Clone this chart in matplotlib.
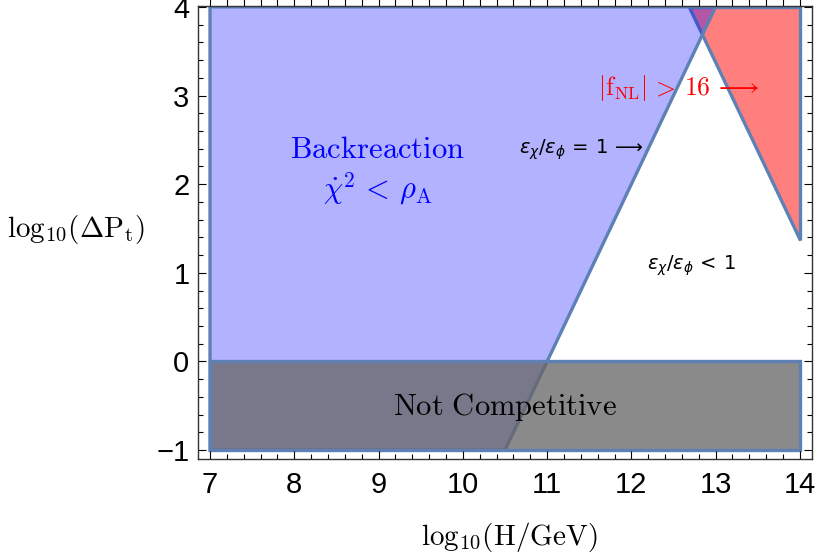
import matplotlib.pyplot as plt
from matplotlib.patches import Polygon
from matplotlib.ticker import MultipleLocator

# region boundaries in (log10 H, log10 dP_t)
backreaction_x = [7, 10.5, 13, 7]
backreaction_y = [-1, -1, 4, 4]
fnl_x = [12.685, 14, 14]
fnl_y = [4, 4, 1.37]
notcomp_x = [7, 14, 14, 7]
notcomp_y = [-1, -1, 0, 0]

edge = '#5e81b5'
plt.rcParams['font.family'] = 'Liberation Sans'

fig = plt.figure(figsize=(8.18, 5.6), dpi=100)
ax = fig.add_axes([0.2417, 0.1804, 0.7506, 0.8089])

ax.add_patch(Polygon(list(zip(fnl_x, fnl_y)), closed=True,
                     facecolor=(1, 0, 0, 0.5), edgecolor=edge, lw=2.4, joinstyle='miter'))
ax.add_patch(Polygon(list(zip(backreaction_x, backreaction_y)), closed=True,
                     facecolor=(0, 0, 1, 0.3), edgecolor=edge, lw=2.4, joinstyle='miter'))
ax.add_patch(Polygon(list(zip(notcomp_x, notcomp_y)), closed=True,
                     facecolor=(0.4, 0.4, 0.4, 0.76), edgecolor=edge, lw=2.4, joinstyle='miter'))

ax.text(8.99, 2.38, r'$\mathrm{Backreaction}$', color='blue', fontsize=22,
        ha='center', va='center', math_fontfamily='cm')
ax.text(8.99, 1.95, r'$\dot{\chi}^2\,<\,\rho_\mathrm{A}$', color='blue', fontsize=22,
        ha='center', va='center', math_fontfamily='cm')
ax.text(10.67, 2.39, r'$\epsilon_\chi/\epsilon_\phi\,=\,1\,\longrightarrow$', fontsize=14,
        ha='left', va='center', math_fontfamily='dejavusans')
ax.text(12.19, 1.08, r'$\epsilon_\chi/\epsilon_\phi\,<\,1$', fontsize=14,
        ha='left', va='center', math_fontfamily='dejavusans')
ax.text(11.61, 3.09, r'$|\mathrm{f}_\mathrm{NL}|\,>\,16\,\longrightarrow$', color='red', fontsize=18.5,
        ha='left', va='center', math_fontfamily='cm')
ax.text(10.5, -0.51, r'$\mathrm{Not\ Competitive}$', fontsize=22,
        ha='center', va='center', math_fontfamily='cm')

ax.set_xlim(6.854, 14.14)
ax.set_ylim(-1.10, 4.01)
ax.xaxis.set_major_locator(MultipleLocator(1))
ax.xaxis.set_minor_locator(MultipleLocator(0.2))
ax.yaxis.set_major_locator(MultipleLocator(1))
ax.yaxis.set_minor_locator(MultipleLocator(0.2))
ax.tick_params(which='both', direction='in', right=True, width=0.8, colors='black', labelsize=21)
ax.tick_params(which='major', length=6)
ax.tick_params(which='minor', length=3.5)
ax.tick_params(axis='x', pad=9)
ax.tick_params(axis='y', pad=6)

top = ax.secondary_xaxis('top')
top.xaxis.set_major_locator(MultipleLocator(1))
top.xaxis.set_minor_locator(MultipleLocator(0.2))
top.tick_params(which='both', direction='out', length=6, width=0.8, labeltop=False)

for s in ax.spines.values():
    s.set_linewidth(1.0)
    s.set_color('#333333')
top.spines['top'].set_visible(False)

ax.set_xlabel(r'$\mathrm{log}_{10}(\mathrm{H/GeV})$', fontsize=21, math_fontfamily='cm',
              va='center')
ax.xaxis.set_label_coords(0.507, -0.172)
ax.set_ylabel(r'$\mathrm{log}_{10}(\Delta\mathrm{P}_\mathrm{t})$', fontsize=21, math_fontfamily='cm',
              rotation=0, ha='center', va='center')
ax.yaxis.set_label_coords(-0.198, 0.5055)

fig.savefig('out.png', dpi=100)
